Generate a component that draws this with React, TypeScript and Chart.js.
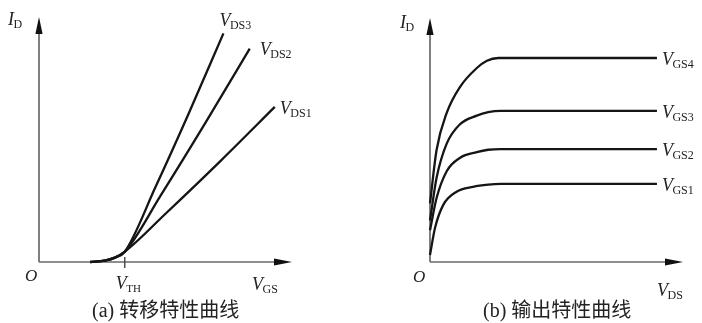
import React, { useEffect, useRef } from "react";
import { Chart, registerables } from "chart.js";

Chart.register(...registerables);

// ---------- (a) transfer characteristics: V_GS (x) vs I_D (y), arbitrary units 0..10 ----------
const toeVgs = [2.03, 2.6, 3.0, 3.39];
const toeId = [0, 0.06, 0.18, 0.42];
const vds1Vgs = [5.0, 7.2, 9.32];
const vds1Id = [1.97, 4.15, 6.33];
const vds2Vgs = [4.8, 6.6, 8.33];
const vds2Id = [2.7, 5.72, 8.71];
const vds3Vgs = [4.6, 5.9, 7.29];
const vds3Id = [3.05, 6.02, 9.33];
const transferNames = ["DS1", "DS2", "DS3"];
const thresholdTicks = [3.39];

// ---------- (b) output characteristics: V_DS (x) vs I_D (y), arbitrary units 0..10 ----------
const gs1Vds = [0, 0.2, 0.53, 1.05, 1.7, 2.3, 2.8, 8.97];
const gs1Id = [0.29, 1.4, 2.35, 2.88, 3.08, 3.17, 3.2, 3.2];
const gs2Vds = [0, 0.26, 0.66, 1.19, 1.85, 2.3, 2.8, 8.97];
const gs2Id = [1.3, 2.62, 3.72, 4.27, 4.5, 4.6, 4.63, 4.63];
const gs3Vds = [0, 0.26, 0.66, 1.19, 1.85, 2.3, 2.8, 8.97];
const gs3Id = [1.7, 3.45, 4.85, 5.65, 6.0, 6.14, 6.19, 6.19];
const gs4Vds = [0, 0.26, 0.66, 1.19, 1.85, 2.25, 2.7, 8.97];
const gs4Id = [2.4, 4.59, 6.11, 7.18, 7.95, 8.25, 8.36, 8.36];
const outputNames = ["GS1", "GS2", "GS3", "GS4"];

const captions = ["(a) 转移特性曲线", "(b) 输出特性曲线"];

const SERIF = '"Liberation Serif", "DejaVu Serif", "Noto Sans CJK SC", serif';
const INK = "#222";

function pts(xs: number[], ys: number[]) {
  return xs.map((x, i) => ({ x, y: ys[i] }));
}

function drawSym(ctx: CanvasRenderingContext2D, main: string, sub: string, x: number, y: number, size = 18, subSize = 12, drop = 3) {
  ctx.font = `italic ${size}px ${SERIF}`;
  ctx.textAlign = "left";
  ctx.textBaseline = "alphabetic";
  ctx.fillText(main, x, y);
  const w = ctx.measureText(main).width;
  ctx.font = `${subSize}px ${SERIF}`;
  ctx.fillText(sub, x + w - 0.5, y + drop);
}

const sketchPlugin = {
  id: "sketch",
  beforeDatasetsDraw(chart: any, _args: any, opts: any) {
    const { ctx, chartArea: a } = chart;
    ctx.save();
    ctx.strokeStyle = "#6a6a6a";
    ctx.lineWidth = 1.7;
    ctx.beginPath();
    ctx.moveTo(a.left, a.bottom);
    ctx.lineTo(a.left, a.top + 12);
    ctx.moveTo(a.left, a.bottom);
    ctx.lineTo(a.right - 12, a.bottom);
    ctx.stroke();
    ctx.fillStyle = "#111";
    ctx.beginPath();
    ctx.moveTo(a.left, a.top);
    ctx.lineTo(a.left - 3.6, a.top + 17);
    ctx.lineTo(a.left + 3.6, a.top + 17);
    ctx.closePath();
    ctx.fill();
    ctx.beginPath();
    ctx.moveTo(a.right, a.bottom);
    ctx.lineTo(a.right - 18, a.bottom - 3.6);
    ctx.lineTo(a.right - 18, a.bottom + 3.6);
    ctx.closePath();
    ctx.fill();
    (opts.ticks || []).forEach((v: number) => {
      const x = chart.scales.x.getPixelForValue(v);
      ctx.strokeStyle = "#444";
      ctx.lineWidth = 1.4;
      ctx.beginPath();
      ctx.moveTo(x, a.bottom - 5);
      ctx.lineTo(x, a.bottom + 6);
      ctx.stroke();
    });
    ctx.restore();
  },
  afterDraw(chart: any, _args: any, opts: any) {
    const { ctx, chartArea: a } = chart;
    ctx.save();
    ctx.fillStyle = INK;
    drawSym(ctx, "I", "D", a.left + opts.iLabel[0], a.top + opts.iLabel[1], 18, 12, 3);
    ctx.font = `italic 17px ${SERIF}`;
    ctx.fillText("O", a.left + opts.oLabel[0], a.bottom + opts.oLabel[1]);
    drawSym(ctx, "V", opts.xName, a.right + opts.xLabel[0], a.bottom + opts.xLabel[1], 18, 12, 3);
    (opts.ticks || []).forEach((v: number) => {
      const x = chart.scales.x.getPixelForValue(v);
      drawSym(ctx, "V", "TH", x - 9, a.bottom + 27, 18, 11, 3);
    });
    chart.data.datasets.forEach((_ds: any, i: number) => {
      const meta = chart.getDatasetMeta(i);
      const last = meta.data[meta.data.length - 1];
      const off = opts.labelOffsets[i];
      drawSym(ctx, "V", opts.seriesNames[i], last.x + off[0], last.y + off[1], 18, 12, 3);
    });
    ctx.font = `20px ${SERIF}`;
    ctx.fillText(opts.caption, opts.captionPos[0], opts.captionPos[1]);
    ctx.restore();
  },
};

function lineDs(data: { x: number; y: number }[]) {
  return {
    data,
    borderColor: "#151515",
    borderWidth: 2.3,
    pointRadius: 0,
    fill: false,
    cubicInterpolationMode: "monotone" as const,
    clip: false as any,
  };
}

function baseOptions(padding: any, plugin: any) {
  return {
    responsive: false,
    animation: false as const,
    layout: { padding },
    events: [],
    scales: {
      x: { type: "linear" as const, min: 0, max: 10, display: false },
      y: { type: "linear" as const, min: 0, max: 10, display: false },
    },
    plugins: {
      legend: { display: false },
      tooltip: { enabled: false },
      sketch: plugin,
    },
  };
}

export default function App() {
  const leftRef = useRef<HTMLCanvasElement>(null);
  const rightRef = useRef<HTMLCanvasElement>(null);

  useEffect(() => {
    document.body.style.margin = "0";
    const left = new Chart(leftRef.current!, {
      type: "line",
      data: {
        datasets: [
          lineDs([...pts(toeVgs, toeId), ...pts(vds1Vgs, vds1Id)]),
          lineDs([...pts(toeVgs, toeId), ...pts(vds2Vgs, vds2Id)]),
          lineDs([...pts(toeVgs, toeId), ...pts(vds3Vgs, vds3Id)]),
        ],
      },
      options: baseOptions(
        { left: 39, right: 59, top: 17, bottom: 61 },
        {
          ticks: thresholdTicks,
          seriesNames: transferNames,
          labelOffsets: [
            [5, 7],
            [10, 6],
            [-4, -7],
          ],
          iLabel: [-31, 8],
          oLabel: [-14, 19],
          xName: "GS",
          xLabel: [-40, 28],
          caption: captions[0],
          captionPos: [92, 317],
        }
      ) as any,
      plugins: [sketchPlugin],
    });
    const right = new Chart(rightRef.current!, {
      type: "line",
      data: {
        datasets: [
          lineDs(pts(gs1Vds, gs1Id)),
          lineDs(pts(gs2Vds, gs2Id)),
          lineDs(pts(gs3Vds, gs3Id)),
          lineDs(pts(gs4Vds, gs4Id)),
        ],
      },
      options: baseOptions(
        { left: 79, right: 19, top: 18, bottom: 61 },
        {
          ticks: [],
          seriesNames: outputNames,
          labelOffsets: [
            [5, 7],
            [5, 7],
            [5, 7],
            [5, 7],
          ],
          iLabel: [-30, 10],
          oLabel: [-17, 20],
          xName: "DS",
          xLabel: [-26, 34],
          caption: captions[1],
          captionPos: [132, 317],
        }
      ) as any,
      plugins: [sketchPlugin],
    });
    return () => {
      left.destroy();
      right.destroy();
    };
  }, []);

  return (
    <div style={{ position: "fixed", left: 0, top: 0, width: 702, height: 323, background: "#fff" }}>
      <canvas ref={leftRef} width={351} height={323} style={{ position: "absolute", left: 0, top: 0, width: 351, height: 323 }} />
      <canvas ref={rightRef} width={351} height={323} style={{ position: "absolute", left: 351, top: 0, width: 351, height: 323 }} />
    </div>
  );
}
